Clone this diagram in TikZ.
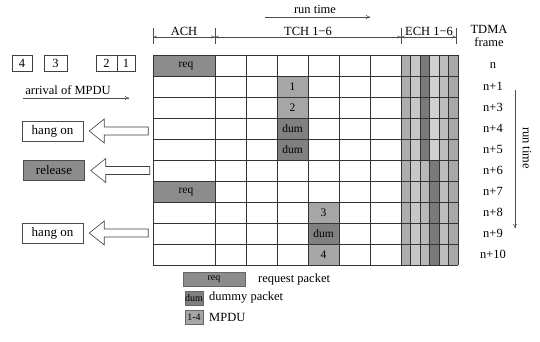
\documentclass[tikz,border=0pt]{standalone}
\usepackage{fontspec}
\setmainfont{Liberation Serif}
\usetikzlibrary{arrows.meta,calc}
\begin{document}
\begin{tikzpicture}[x=1pt,y=-1pt,
  lbl/.style={font=\fontsize{12.5}{12.5}\selectfont, inner sep=0pt},
  cell/.style={font=\fontsize{11.5}{11.5}\selectfont, inner sep=0pt},
  legtxt/.style={font=\fontsize{10}{10}\selectfont, inner sep=0pt},
  gridline/.style={draw=black!80, line width=0.5pt},
  numbox/.style={draw=black!75, line width=0.5pt, minimum height=16pt, inner sep=0pt, font=\fontsize{12.5}{12.5}\selectfont},
  statebox/.style={draw=black!70, line width=0.5pt, minimum width=61pt, minimum height=20pt, inner sep=0pt, font=\fontsize{13}{13}\selectfont},
  blockarrow/.style={draw=black!75, line width=0.6pt, fill=white},
  thinarrow/.style={draw=black!70, line width=0.5pt, -{To[length=4pt,width=4pt]}},
  dimline/.style={draw=black!70, line width=0.5pt, {To[length=4pt,width=3pt]}-{To[length=4pt,width=3pt]}},
  reqfill/.style={fill=black!45},
  dumfill/.style={fill=black!50},
  mpdufill/.style={fill=black!35}]
\useasboundingbox (0,0) rectangle (540,341);

% ---- ECH shading
\foreach \r in {0,...,9}{
  \foreach \c/\g in {0/32,1/22,2/28,3/18,4/26,5/34}{
    \pgfmathtruncatemacro{\gg}{((\c==2)&&(\r<5))||((\c==3)&&(\r>4)) ? 52 : \g}
    \fill[black!\gg] ({401+9.5*\c},{55+21*\r}) rectangle ({401+9.5*(\c+1)},{55+21*(\r+1)});
  }
}
% ---- shaded cells
\fill[reqfill] (153,55) rectangle (215,76);
\fill[reqfill] (153,181) rectangle (215,202);
\fill[mpdufill] (277,76) rectangle (308,97);
\fill[mpdufill] (277,97) rectangle (308,118);
\fill[dumfill] (277,118) rectangle (308,139);
\fill[dumfill] (277,139) rectangle (308,160);
\fill[mpdufill] (308,202) rectangle (339,223);
\fill[dumfill] (308,223) rectangle (339,244);
\fill[mpdufill] (308,244) rectangle (339,265);

% ---- grid lines
\foreach \k in {0,...,10}{
  \draw[gridline] (153,{55+21*\k}) -- (458,{55+21*\k});
}
\foreach \xx in {153,215,246,277,308,339,370,401,410.5,420,429.5,439,448.5,458}{
  \draw[gridline] (\xx,55) -- (\xx,265);
}

% ---- cell texts
\node[cell] (req1) at (186,65.5) {req};
\node[cell] (req2) at (186,191.5) {req};
\node[cell] (m1) at (292.5,86.5) {1};
\node[cell] (m2) at (292.5,107.5) {2};
\node[cell] (d1) at (292.5,128.5) {dum};
\node[cell] (d2) at (292.5,149.5) {dum};
\node[cell] (m3) at (323.5,212.5) {3};
\node[cell] (d3) at (323.5,233.5) {dum};
\node[cell] (m4) at (323.5,254.5) {4};

% ---- row labels
\foreach \r/\t in {0/n,1/n+1,2/n+3,3/n+4,4/n+5,5/n+6,6/n+7,7/n+8,8/n+9,9/n+10}{
  \node[lbl] (row\r) at (493,{65.5+21*\r}) {\t};
}
\node[lbl, align=center] (tdma) at (489,36) {TDMA\\frame};

% ---- vertical run time
\coordinate (vrt1) at (515,90);
\coordinate (vrt2) at (515,228);
\draw[thinarrow] (vrt1) -- (vrt2);
\node[lbl, rotate=-90] (vrtxt) at (527,148) {run time};

% ---- top run time
\node[lbl] (rt) at (315,9) {run time};
\coordinate (rt1) at (265,17);
\coordinate (rt2) at (370,17);
\draw[thinarrow] (rt1) -- (rt2);

% ---- dimension line
\foreach \xx in {153,215,401,456}{
  \draw[draw=black!70, line width=0.5pt] (\xx,28) -- (\xx,44);
}
\coordinate (da) at (153,37);
\coordinate (db) at (215,37);
\coordinate (dc) at (401,37);
\coordinate (dd) at (456,37);
\draw[dimline] (da) -- (db);
\draw[dimline] (db) -- (dc);
\draw[dimline] (dc) -- (dd);
\node[lbl] (ach) at (184,31) {ACH};
\node[lbl] (tch) at (308,31) {TCH 1−6};
\node[lbl] (ech) at (429,31) {ECH 1−6};

% ---- MPDU arrivals
\node[numbox, minimum width=20pt] (b4) at (22,63) {4};
\node[numbox, minimum width=23pt] (b3) at (55.5,63) {3};
\node[numbox, minimum width=21pt] (b2) at (106.5,63) {2};
\node[numbox, minimum width=18pt] (b1) at (126,63) {1};
\node[lbl] (arr) at (68,90) {arrival of MPDU};
\coordinate (arrS) at (23,98);
\coordinate (arrE) at (129,98);
\draw[thinarrow] (arrS) -- (arrE);

% ---- state boxes
\node[statebox] (h1) at (52.5,131) {hang on};
\node[statebox, fill=black!45] (rel) at (54,170.5) {release};
\node[statebox] (h2) at (52.5,233) {hang on};

\foreach \b in {h1,rel,h2}{
  \coordinate (t) at ([xshift=6pt]\b.east);
  \draw[blockarrow] (t) -- ($(t)+(15,-12)$) -- ($(t)+(15,-4)$) -- ($(t)+(59,-4)$)
     -- ($(t)+(59,4)$) -- ($(t)+(15,4)$) -- ($(t)+(15,12)$) -- cycle;
}

% ---- legend
\node[draw=black!60, reqfill, minimum width=62pt, minimum height=14pt, inner sep=0pt, legtxt] (lreq) at (214,279) {req};
\node[draw=black!60, dumfill, minimum width=18pt, minimum height=14pt, inner sep=0pt, legtxt] (ldum) at (194,298) {dum};
\node[draw=black!60, mpdufill, minimum width=18pt, minimum height=14pt, inner sep=0pt, legtxt] (lmpdu) at (194,317) {1-4};
\node[lbl, anchor=west] (treq) at (258,279) {request packet};
\node[lbl, anchor=west] (tdum) at (209,298) {dummy packet};
\node[lbl, anchor=west] (tmpdu) at (209,317) {MPDU};
\end{tikzpicture}
\end{document}
